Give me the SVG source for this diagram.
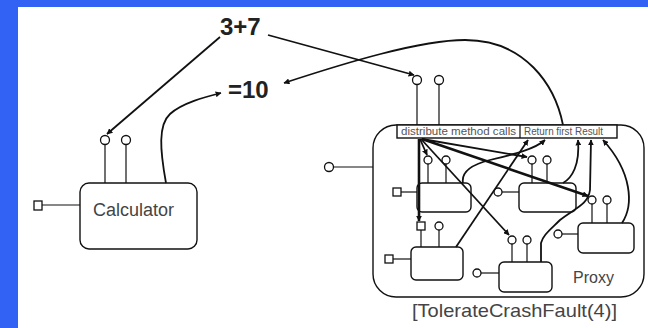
<svg xmlns="http://www.w3.org/2000/svg" width="648" height="328" viewBox="0 0 648 328">
<defs>
<marker id="ah" viewBox="0 0 10 10" refX="9" refY="5" markerWidth="6" markerHeight="6" orient="auto" markerUnits="userSpaceOnUse">
<path d="M0,0 L10,5 L0,10 z" fill="#111"/>
</marker>
<style>
.box{fill:#fff;stroke:#111;stroke-width:1.4}
.ln{fill:none;stroke:#111;stroke-width:1.2}
.port{fill:#fff;stroke:#111;stroke-width:1.3}
.c{fill:none;stroke:#111;stroke-width:1.8;marker-end:url(#ah)}
.ct{fill:none;stroke:#111;stroke-width:2.6;marker-end:url(#ah)}
.big{font-family:"Liberation Sans",Arial,sans-serif;font-size:24px;font-weight:bold;fill:#222}
.lbl{font-family:"Liberation Sans",Arial,sans-serif;fill:#444}
.sm{font-family:"Liberation Sans",Arial,sans-serif;font-size:10px;fill:#555}
</style>
</defs>
<rect x="0" y="0" width="648" height="328" fill="#3162f4"/>
<rect x="18" y="7" width="630" height="321" fill="#fff"/>

<g id="expr">
<text class="big" x="220" y="35">3+7</text>
<text class="big" x="228" y="98">=10</text>
</g>

<g id="calculator">
<rect class="box" x="80" y="183" width="117" height="66" rx="9"/>
<text class="lbl" x="93" y="216" font-size="18">Calculator</text>
<rect class="port" x="34" y="201" width="8" height="9"/>
<line class="ln" x1="42" y1="205" x2="80" y2="205"/>
<circle class="port" cx="105" cy="140" r="4.5"/>
<circle class="port" cx="126" cy="140" r="4.5"/>
<line class="ln" x1="105" y1="144.5" x2="105" y2="183"/>
<line class="ln" x1="126" y1="144.5" x2="126" y2="183"/>
</g>

<g id="proxy">
<rect class="box" x="373" y="125" width="271" height="172" rx="23"/>
<rect class="box" x="397" y="125" width="220" height="13"/>
<line class="ln" x1="520" y1="125" x2="520" y2="138"/>
<text class="sm" x="401" y="135" textLength="115" lengthAdjust="spacingAndGlyphs">distribute  method calls</text>
<text class="sm" x="524" y="135" textLength="79" lengthAdjust="spacingAndGlyphs">Return first Result</text>
<circle class="port" cx="417" cy="80" r="4.5"/>
<circle class="port" cx="439" cy="80" r="4.5"/>
<line class="ln" x1="417" y1="84.5" x2="417" y2="125"/>
<line class="ln" x1="439" y1="84.5" x2="439" y2="125"/>
<circle class="port" cx="329" cy="167" r="4.5"/>
<line class="ln" x1="333.5" y1="167" x2="373" y2="167"/>
<text class="lbl" x="573" y="283" font-size="16">Proxy</text>
<text class="lbl" x="412" y="317" font-size="19" textLength="205" lengthAdjust="spacingAndGlyphs">[TolerateCrashFault(4)]</text>
</g>

<g id="replicaA">
<rect class="box" x="417" y="183" width="54" height="29" rx="5"/>
<circle class="port" cx="428" cy="160" r="4"/>
<circle class="port" cx="446" cy="160" r="4"/>
<line class="ln" x1="428" y1="164" x2="428" y2="183"/>
<line class="ln" x1="446" y1="164" x2="446" y2="183"/>
<rect class="port" x="393" y="188" width="8" height="8"/>
<line class="ln" x1="401" y1="192" x2="417" y2="192"/>
</g>

<g id="replicaB">
<rect class="box" x="519" y="183" width="57" height="29" rx="5"/>
<circle class="port" cx="532" cy="160" r="4"/>
<circle class="port" cx="547" cy="160" r="4"/>
<line class="ln" x1="532" y1="164" x2="532" y2="183"/>
<line class="ln" x1="547" y1="164" x2="547" y2="183"/>
<circle class="port" cx="498" cy="192" r="4"/>
<line class="ln" x1="502" y1="192" x2="519" y2="192"/>
</g>

<g id="replicaC">
<rect class="box" x="578" y="223" width="56" height="30" rx="5"/>
<circle class="port" cx="592" cy="200" r="4"/>
<circle class="port" cx="607" cy="200" r="4"/>
<line class="ln" x1="592" y1="204" x2="592" y2="223"/>
<line class="ln" x1="607" y1="204" x2="607" y2="223"/>
<circle class="port" cx="558" cy="234" r="4"/>
<line class="ln" x1="562" y1="234" x2="578" y2="234"/>
</g>

<g id="replicaD">
<rect class="box" x="411" y="247" width="52" height="33" rx="5"/>
<rect class="port" x="417" y="222" width="8" height="8"/>
<circle class="port" cx="439" cy="226" r="4"/>
<line class="ln" x1="421" y1="230" x2="421" y2="247"/>
<line class="ln" x1="439" y1="230" x2="439" y2="247"/>
<rect class="port" x="385" y="255" width="8" height="8"/>
<line class="ln" x1="393" y1="259" x2="411" y2="259"/>
</g>

<g id="replicaE">
<rect class="box" x="499" y="262" width="53" height="30" rx="5"/>
<circle class="port" cx="512" cy="240" r="4"/>
<circle class="port" cx="527" cy="240" r="4"/>
<line class="ln" x1="512" y1="244" x2="512" y2="262"/>
<line class="ln" x1="527" y1="244" x2="527" y2="262"/>
<circle class="port" cx="477" cy="273" r="4"/>
<line class="ln" x1="481" y1="273" x2="499" y2="273"/>
</g>

<g id="connectors">
<path class="c" d="M220,37 L107,134"/>
<path class="c" d="M166,183 C160,150 158,125 170,114 S205,97 221,93"/>
<path class="c" d="M268,35 L414,75"/>
<path class="c" d="M563,125 C555,85 525,40 465,40 C420,40 345,63 284,83"/>
<path class="c" d="M420,139 L427,155"/>
<path class="ct" d="M419,139 L419,221"/>
<path class="c" d="M421,139 L509,235"/>
<path class="c" d="M422,139 L527,157"/>
<path class="ct" d="M422,139 L588,196"/>
<path class="c" d="M456,247 L528,140"/>
<path class="c" d="M463,183 C461,172 470,165 490,160 C515,154 535,149 545,140"/>
<path class="c" d="M563,183 C572,178 580,165 578,140"/>
<path class="c" d="M541,262 L541,243 C543,235 550,230 560,220 C575,208 588,205 590,190 L591,140"/>
<path class="c" d="M622,223 C634,205 632,172 603,140"/>
</g>
</svg>
